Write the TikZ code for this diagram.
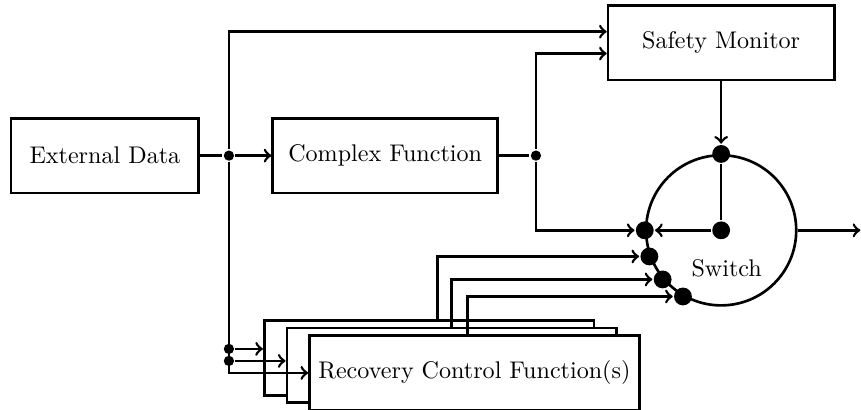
\documentclass[tikz,border=0pt]{standalone}
\usetikzlibrary{positioning}
\usetikzlibrary{calc}
\usetikzlibrary{arrows}

\begin{document}
\begin{tikzpicture}[line width=1.1pt,
        block/.style={draw, rectangle, fill=white, minimum height=1.09cm},
        dot/.style={circle, fill, inner sep=0pt, minimum size=0.15cm},
        bigdot/.style={circle, fill, inner sep=0pt, minimum size=0.26cm}]
        \useasboundingbox (0,0) rectangle (12.56,-5.98);
        \node[block, minimum width=2.74cm] (ext) at (1.53,-2.27) {External Data};
        \node[block, minimum width=3.28cm, right=1.04cm of ext] (cf) {Complex Function};
        \node[draw, circle, minimum size=2.19cm] (sw) at (10.52,-3.36) {};
        \node[block, minimum width=3.30cm, above=1.06cm of sw] (sm) {Safety Monitor};
        \node (swlabel) at ($(sw)+(0.08,-0.55)$) {Switch};
        \node[bigdot] (top) at (sw.north) {};
        \node[bigdot] (mid) at (sw.center) {};
        \node[bigdot] (in0) at (sw.180) {};
        \node[bigdot] (in1) at (sw.200) {};
        \node[bigdot] (in2) at (sw.220) {};
        \node[bigdot] (in3) at (sw.240) {};
        \coordinate (out) at (12.55,-3.36);
        \node[dot] (j1) at ($(ext.east)+(0.42,0)$) {};
        \node[dot] (j2) at ($(cf.east)+(0.54,0)$) {};
        \node[block, minimum width=4.81cm] (rc1) at (6.26,-5.22) {};
        \node[block, minimum width=4.81cm] (rc2) at ($(rc1)+(0.33,-0.11)$) {};
        \node[block, minimum width=4.81cm] (rc3) at ($(rc2)+(0.33,-0.11)$)
        {Recovery Control Function(s)};
        \node[dot] (k2) at ($(j1 |- rc3.west)+(0,0.175)$) {};
        \node[dot] (k1) at ($(j1 |- rc3.west)+(0,0.35)$) {};
        \draw (ext) -- (j1);
        \draw[->] (j1) -- (cf);
        \draw (cf) -- (j2);
        \draw[->] (j1) |- ($(sm.west)+(0,0.16)$);
        \draw[->] (j2) |- ($(sm.west)+(0,-0.16)$);
        \draw[->] (j2) |- (in0);
        \draw[->] (sm) -- (top);
        \draw (top) -- (mid);
        \draw[->] (mid) -- (in0);
        \draw[->] (sw.east) -- (out);
        \draw[->] (j1) |- (rc3.west);
        \draw[->] (k1) -- (k1 -| rc1.west);
        \draw[->] (k2) -- (k2 -| rc2.west);
        \draw[->] ($(rc1.north)+(0.12,0)$) |- (in1);
        \draw[->] (rc2.north) |- (in2);
        \draw[->] ($(rc3.north)+(-0.1,0)$) |- (in3);
    \end{tikzpicture}
\end{document}
